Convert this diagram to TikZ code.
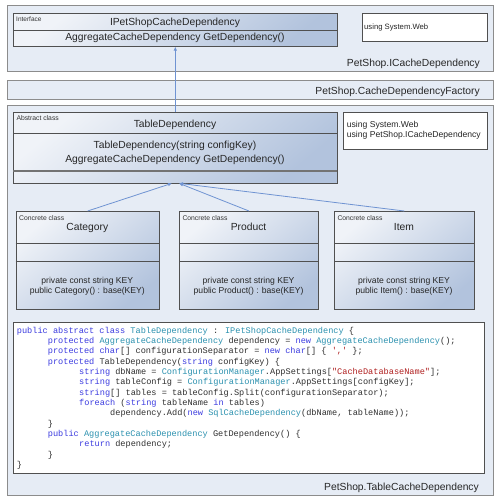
\documentclass[tikz,border=0pt]{standalone}
\usepackage{fontspec}
\setmainfont{Liberation Sans}
\newfontfamily\codefont{Liberation Mono}
\usetikzlibrary{arrows.meta}
\definecolor{pkgfill}{HTML}{E6ECF5}
\definecolor{pkgdraw}{HTML}{8C8C8C}
\definecolor{boxdraw}{HTML}{505050}
\definecolor{boxL}{HTML}{F0F3F8}
\definecolor{boxM}{HTML}{E2E9F3}
\definecolor{boxR}{HTML}{B2C3DD}
\definecolor{arrowc}{HTML}{6F93D2}
\definecolor{kwc}{HTML}{3C3CE0}
\definecolor{tyc}{HTML}{2B91AF}
\definecolor{strc}{HTML}{B02020}
\definecolor{codec}{HTML}{303030}
\newcommand{\kw}[1]{\textcolor{kwc}{#1}}
\newcommand{\ty}[1]{\textcolor{tyc}{#1}}
\newcommand{\cstr}[1]{\textcolor{strc}{#1}}
\tikzset{
  pkg/.style={draw=pkgdraw, fill=pkgfill, line width=0.9pt, inner sep=0pt, anchor=north west},
  umlbox/.style={draw=boxdraw, line width=0.6pt, top color=boxL, middle color=boxM, bottom color=boxR, shading angle=40, inner sep=0pt, anchor=north west},
  usingbox/.style={draw=boxdraw, line width=0.6pt, fill=white, inner sep=0pt, anchor=north west},
  divider/.style={draw=boxdraw, line width=0.6pt},
  arr/.style={draw=arrowc, line width=0.8pt, -{Latex[length=4pt,width=3.5pt]}},
  big/.style={inner sep=0pt, anchor=base, font=\fontsize{10.3}{12}\selectfont, text=black!85},
  mid/.style={inner sep=0pt, anchor=base, font=\fontsize{8.6}{10}\selectfont, text=black!85},
  tiny/.style={inner sep=0pt, anchor=base west, font=\fontsize{6.8}{8}\selectfont, text=black!80},
  pkglabel/.style={inner sep=0pt, anchor=base east, font=\fontsize{10.3}{12}\selectfont, text=black!85},
  code/.style={inner sep=0pt, anchor=base west, font=\codefont\fontsize{8.6}{10}\selectfont, text=codec},
}
\begin{document}
\begin{tikzpicture}[x=1pt,y=-1pt]
\useasboundingbox (0,0) rectangle (500,502);
\fill[white] (0,0) rectangle (500,502);
% packages
\node[pkg, minimum width=486pt, minimum height=66pt] (pkgA) at (7,5) {};
\node[pkg, minimum width=486pt, minimum height=19pt] (pkgB) at (7,80) {};
\node[pkg, minimum width=486pt, minimum height=390pt] (pkgC) at (7,105) {};
\node[pkglabel] (pkgAl) at (480,67) {PetShop.ICacheDependency};
\node[pkglabel] (pkgBl) at (480,94.5) {PetShop.CacheDependencyFactory};
\node[pkglabel] (pkgCl) at (479,490.5) {PetShop.TableCacheDependency};

% interface
\node[umlbox, minimum width=324pt, minimum height=33pt] (iface) at (13,13) {};
\draw[divider] (13,30) -- (337,30);
\node[tiny, font=\fontsize{6.5}{8}\selectfont] (ifacet) at (16,22) {Interface};
\node[big] (ifacen) at (175,25.3) {IPetShopCacheDependency};
\node[big] (ifacem) at (175,40.5) {AggregateCacheDependency GetDependency()};
\node[usingbox, minimum width=125pt, minimum height=28pt] (useA) at (362,13) {};
\node[inner sep=0pt, anchor=base west, font=\fontsize{7.7}{9}\selectfont, text=black!85] (useAt) at (364,29.5) {using System.Web};

% table dependency
\node[umlbox, minimum width=324pt, minimum height=71pt] (tdep) at (13,112) {};
\draw[divider] (13,133) -- (337,133);
\draw[draw=black!55, line width=1.4pt] (13,171) -- (337,171);
\node[tiny] (tdept) at (16.3,121) {Abstract class};
\node[big] (tdepn) at (175,127.8) {TableDependency};
\node[big] (tdepm1) at (175,148.8) {TableDependency(string configKey)};
\node[big] (tdepm2) at (175,162.3) {AggregateCacheDependency GetDependency()};
\node[usingbox, minimum width=144pt, minimum height=37pt] (useB) at (343,112) {};
\node[inner sep=0pt, anchor=base west, font=\fontsize{8.6}{10}\selectfont, text=black!85, align=left] (useBt1) at (346.7,128) {using System.Web};
\node[inner sep=0pt, anchor=base west, font=\fontsize{8.6}{10}\selectfont, text=black!85, align=left] (useBt2) at (346.7,138) {using PetShop.ICacheDependency};

% concrete classes
\node[umlbox, minimum width=143.3pt, minimum height=98pt] (cat) at (15.7,211) {};
\draw[divider] (15.7,243) -- (159,243);
\draw[divider] (15.7,261) -- (159,261);
\node[tiny] (catt) at (19,220.5) {Concrete class};
\node[big] (catn) at (87.3,230.3) {Category};
\node[mid] (catm1) at (87.3,283) {private const string KEY};
\node[mid] (catm2) at (87.3,293.7) {public Category() : base(KEY)};

\node[umlbox, minimum width=139.3pt, minimum height=98pt] (prod) at (179,211) {};
\draw[divider] (179,243) -- (318.3,243);
\draw[divider] (179,261) -- (318.3,261);
\node[tiny] (prodt) at (182.3,220.5) {Concrete class};
\node[big] (prodn) at (248.6,230.3) {Product};
\node[mid] (prodm1) at (248.6,283) {private const string KEY};
\node[mid] (prodm2) at (248.6,293.7) {public Product() : base(KEY)};

\node[umlbox, minimum width=140pt, minimum height=98pt] (item) at (334,211) {};
\draw[divider] (334,243) -- (474,243);
\draw[divider] (334,261) -- (474,261);
\node[tiny] (itemt) at (337.3,220.5) {Concrete class};
\node[big] (itemn) at (404,230.3) {Item};
\node[mid] (itemm1) at (404,283) {private const string KEY};
\node[mid] (itemm2) at (404,293.7) {public Item() : base(KEY)};

% connectors
\draw[arr] (tdep.north) -- (iface.south);
\coordinate (inhA) at (172,183.3);
\coordinate (inhB) at (179,183.3);
\draw[arr] (cat.north) -- (inhA);
\draw[arr] (prod.north) -- (inhB);
\draw[arr] (item.north) -- (inhB);

% code
\node[usingbox, minimum width=471pt, minimum height=151.3pt] (codebox) at (13,322) {};
\node[code] (c1) at (16.7,333.3) {\kw{public abstract class} \ty{TableDependency} : \ty{IPetShopCacheDependency} \{};
\node[code] (c2) at (47.7,343.6) {\kw{protected} \ty{AggregateCacheDependency} dependency = \kw{new} \ty{AggregateCacheDependency}();};
\node[code] (c3) at (47.7,353.9) {\kw{protected} \kw{char}[] configurationSeparator = \kw{new} \kw{char}[] \{ \cstr{\textquotesingle,\textquotesingle} \};};
\node[code] (c4) at (47.7,364.3) {\kw{protected} TableDependency(\kw{string} configKey) \{};
\node[code] (c5) at (79,374.6) {\kw{string} dbName = \ty{ConfigurationManager}.AppSettings[\cstr{"CacheDatabaseName"}];};
\node[code] (c6) at (79,384.9) {\kw{string} tableConfig = \ty{ConfigurationManager}.AppSettings[configKey];};
\node[code] (c7) at (79,395.3) {\kw{string}[] tables = tableConfig.Split(configurationSeparator);};
\node[code] (c8) at (79,405.6) {\kw{foreach} (\kw{string} tableName \kw{in} tables)};
\node[code] (c9) at (110,415.9) {dependency.Add(\kw{new} \ty{SqlCacheDependency}(dbName, tableName));};
\node[code] (c10) at (47.7,426.3) {\}};
\node[code] (c11) at (47.7,436.6) {\kw{public} \ty{AggregateCacheDependency} GetDependency() \{};
\node[code] (c12) at (79,446.9) {\kw{return} dependency;};
\node[code] (c13) at (47.7,457.3) {\}};
\node[code] (c14) at (16.7,467.6) {\}};
\end{tikzpicture}
\end{document}
